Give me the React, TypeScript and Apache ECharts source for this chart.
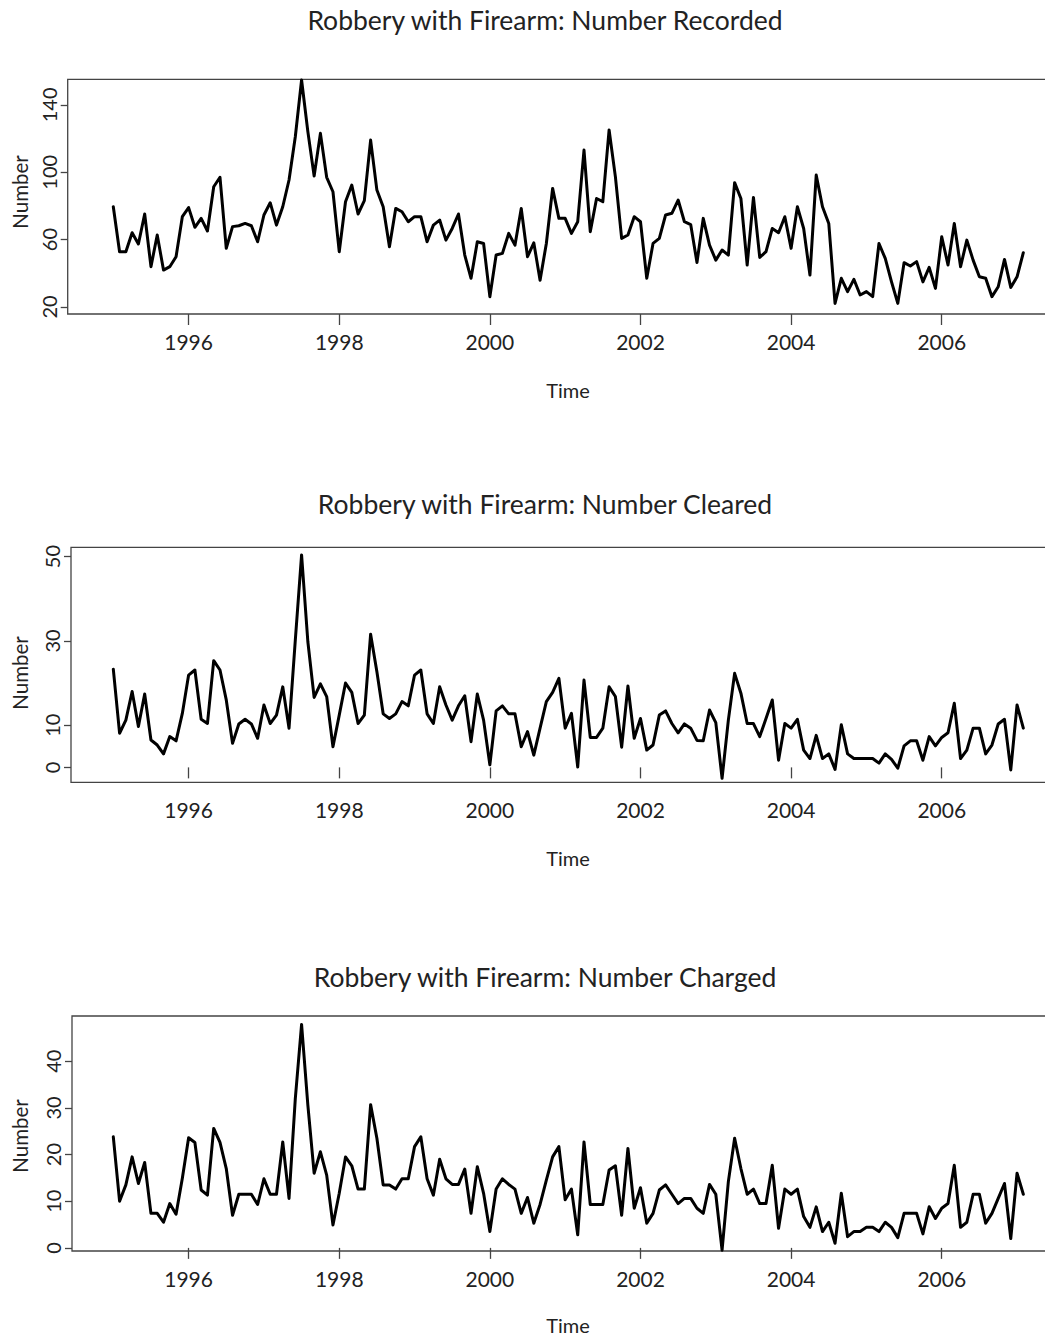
import React, { useEffect, useRef } from "react";
import * as echarts from "echarts";

// Monthly series, January 1995 onward
const START_YEAR = 1995;
const MONTHS_PER_YEAR = 12;

const recorded = [
  79.5, 52.8, 52.8, 64.1, 57.4, 75.2, 43.9, 62.7, 41.9, 43.9,
  49.8, 73.6, 79, 67.3, 72.6, 65.1, 91.4, 97, 54.8, 67.7,
  68.2, 69.6, 68.2, 58.7, 74.6, 81.9, 68.6, 79.5, 95.4, 121.1,
  154.8, 124.1, 97.8, 123.1, 97, 88.4, 52.8, 82.5, 92.4, 75.2,
  83.1, 119.1, 89.4, 79.5, 55.7, 78.5, 76.5, 70.6, 73.6, 73.6,
  58.7, 68.6, 71.6, 59.7, 66.6, 75.2, 50.8, 37, 58.7, 57.7,
  26.1, 50.8, 51.8, 63.7, 56.7, 78.5, 49.8, 58.1, 35.9, 57.7,
  90.4, 72.6, 72.6, 63.7, 70.6, 113.2, 64.7, 84.4, 82.5, 125.1,
  97.4, 60.7, 62.7, 73.6, 70.6, 37, 57.7, 60.7, 74.6, 75.6,
  83.5, 70.6, 68.9, 46.4, 72.6, 56.7, 47.8, 53.8, 50.8, 93.8,
  84.4, 44.9, 85, 49.4, 52.8, 66.6, 64.1, 73.6, 54.8, 79.5,
  66.6, 38.9, 98.3, 79.5, 69.6, 22.1, 37, 29.1, 36.4, 27.1,
  29.1, 26.1, 57.7, 48.8, 34.9, 22.1, 46.3, 44.3, 46.9, 34.9,
  43.5, 31, 61.7, 44.9, 69.6, 43.9, 59.7, 47.8, 37.9, 37,
  26.1, 32, 48.2, 31.6, 37.9, 52.2,
];

const cleared = [
  23.3, 8.1, 11.2, 18, 9.7, 17.4, 6.5, 5.3, 3.2, 7.3,
  6.3, 12.8, 21.9, 23.1, 11.4, 10.4, 25.3, 23.1, 16, 5.7,
  10.3, 11.4, 10.3, 6.9, 14.8, 10.4, 12.4, 19.1, 9.3, 30.2,
  50.4, 29.8, 16.6, 19.8, 16.8, 4.9, 12.4, 20, 17.8, 10.4,
  12.4, 31.6, 22.7, 12.7, 11.6, 12.7, 15.6, 14.6, 21.9, 23.1,
  12.7, 10.4, 19.1, 14.8, 11.2, 14.6, 17, 6.1, 17.4, 11.2,
  0.6, 13.4, 14.6, 12.7, 12.7, 4.9, 8.5, 2.9, 9.3, 15.6,
  17.8, 21.1, 9.3, 12.8, 0.1, 20.7, 7.1, 7.1, 9.3, 19.1,
  16.8, 4.8, 19.3, 6.9, 11.6, 4.1, 5.3, 12.4, 13.4, 10.4,
  8.2, 10.3, 9.3, 6.4, 6.3, 13.6, 10.6, -2.6, 11.2, 22.3,
  17.6, 10.4, 10.4, 7.3, 11.6, 16, 1.7, 10.4, 9.3, 11.4,
  4.1, 2.1, 7.6, 2.1, 3.2, -0.5, 10.1, 3.2, 2.1, 2.1,
  2.1, 2.1, 1, 3.2, 1.9, -0.2, 5.1, 6.3, 6.3, 1.7,
  7.3, 5.1, 7.1, 8.2, 15.2, 2.1, 4.1, 9.3, 9.3, 3.2,
  5.3, 10.3, 11.4, -0.6, 14.8, 9.3,
];

const charged = [
  23.8, 10, 13.5, 19.5, 13.8, 18.3, 7.4, 7.4, 5.5, 9.5,
  7.2, 14.9, 23.6, 22.6, 12.4, 11.3, 25.6, 22.6, 17, 7,
  11.5, 11.5, 11.5, 9.3, 14.8, 11.5, 11.5, 22.7, 10.6, 32,
  47.9, 30.6, 16, 20.6, 15.6, 4.9, 11.7, 19.5, 17.6, 12.6,
  12.6, 30.7, 23.5, 13.5, 13.5, 12.6, 14.8, 14.8, 21.7, 23.8,
  14.8, 11.3, 19, 14.8, 13.6, 13.6, 16.9, 7.4, 17.4, 11.7,
  3.5, 12.6, 14.8, 13.6, 12.6, 7.4, 10.8, 5.3, 9.3, 14.5,
  19.5, 21.7, 10.3, 12.6, 2.8, 22.7, 9.3, 9.3, 9.3, 16.7,
  17.6, 7, 21.3, 8.5, 12.9, 5.3, 7.4, 12.4, 13.5, 11.5,
  9.5, 10.6, 10.6, 8.5, 7.4, 13.6, 11.5, -0.5, 14.2, 23.5,
  17, 11.5, 12.6, 9.5, 9.5, 17.7, 4.2, 12.6, 11.5, 12.6,
  6.7, 4.4, 8.8, 3.5, 5.5, 1, 11.7, 2.4, 3.5, 3.5,
  4.4, 4.4, 3.5, 5.5, 4.4, 2.2, 7.4, 7.4, 7.4, 3,
  8.8, 6.3, 8.5, 9.5, 17.7, 4.4, 5.5, 11.5, 11.5, 5.3,
  7.4, 10.6, 13.8, 2, 16, 11.5,
];

const yearTicks = [1996, 1998, 2000, 2002, 2004, 2006];
const recordedTicks = [20, 60, 100, 140];
const clearedTicks = [0, 10, 30, 50];
const chargedTicks = [0, 10, 20, 30, 40];

const titles = [
  "Robbery with Firearm: Number Recorded",
  "Robbery with Firearm: Number Cleared",
  "Robbery with Firearm: Number Charged",
];
const xName = "Time";
const yName = "Number";

const toPoints = (vals: number[]) =>
  vals.map((v, i) => [START_YEAR + i / MONTHS_PER_YEAR, v]);

const FONT = "Lato, 'Open Sans', sans-serif";
const TEXT = "#222";
const AXIS = "#444";

const panels = [
  {
    grid: { left: 67.7, top: 79.3, width: 980.3, height: 234.7 },
    xMin: 1994.3945, xMax: 2007.411, yMin: 15.8, yMax: 155.2,
    ticks: recordedTicks, values: recorded, title: titles[0],
    titleY: 20, timeY: 390, numberY: 192,
  },
  {
    grid: { left: 71, top: 547.3, width: 977, height: 235 },
    xMin: 1994.4383, xMax: 2007.411, yMin: -3.54, yMax: 52.2,
    ticks: clearedTicks, values: cleared, title: titles[1],
    titleY: 504, timeY: 858, numberY: 673,
  },
  {
    grid: { left: 72, top: 1016, width: 976, height: 235 },
    xMin: 1994.4516, xMax: 2007.411, yMin: -0.67, yMax: 49.7,
    ticks: chargedTicks, values: charged, title: titles[2],
    titleY: 977, timeY: 1325, numberY: 1136,
  },
];

export default function App() {
  const ref = useRef<HTMLDivElement>(null);

  useEffect(() => {
    if (!ref.current) return;
    const chart = echarts.init(ref.current, undefined, { renderer: "svg" });

    const graphics: any[] = [];
    panels.forEach((p) => {
      graphics.push({
        type: "text",
        x: 545,
        y: p.titleY,
        style: {
          text: p.title,
          align: "center",
          verticalAlign: "middle",
          fontSize: 26.5,
          fontFamily: FONT,
          fill: TEXT,
        },
      });
      graphics.push({
        type: "text",
        x: 568,
        y: p.timeY,
        style: {
          text: xName,
          align: "center",
          verticalAlign: "middle",
          fontSize: 20,
          fontFamily: FONT,
          fill: TEXT,
        },
      });
      graphics.push({
        type: "text",
        x: 20,
        y: p.numberY,
        rotation: Math.PI / 2,
        style: {
          text: yName,
          align: "center",
          verticalAlign: "middle",
          fontSize: 20.5,
          fontFamily: FONT,
          fill: TEXT,
        },
      });
    });

    chart.setOption({
      animation: false,
      backgroundColor: "#fff",
      grid: panels.map((p) => ({
        ...p.grid,
        show: true,
        borderColor: AXIS,
        borderWidth: 1.3,
        backgroundColor: "transparent",
        containLabel: false,
      })),
      xAxis: panels.map((p, i) => ({
        type: "value",
        gridIndex: i,
        min: p.xMin,
        max: p.xMax,
        axisLine: { show: false },
        splitLine: { show: false },
        axisTick: {
          show: true,
          inside: false,
          length: 11,
          lineStyle: { color: AXIS, width: 1.3 },
          customValues: yearTicks,
        },
        axisLabel: {
          customValues: yearTicks,
          fontSize: 21,
          margin: 17,
          color: TEXT,
          fontFamily: FONT,
          formatter: (v: number) => String(Math.round(v)),
        },
      })),
      yAxis: panels.map((p, i) => ({
        type: "value",
        gridIndex: i,
        min: p.yMin,
        max: p.yMax,
        axisLine: { show: false },
        splitLine: { show: false },
        axisTick: {
          show: true,
          inside: false,
          length: 7,
          lineStyle: { color: AXIS, width: 1.3 },
          customValues: p.ticks,
        },
        axisLabel: {
          customValues: p.ticks,
          rotate: 90,
          fontSize: 20,
          margin: 9,
          color: TEXT,
          fontFamily: FONT,
          formatter: (v: number) => String(Math.round(v)),
        },
      })),
      series: panels.map((p, i) => ({
        type: "line",
        xAxisIndex: i,
        yAxisIndex: i,
        data: toPoints(p.values),
        showSymbol: false,
        symbol: "none",
        silent: true,
        clip: true,
        lineStyle: { color: "#000", width: 3, join: "round", cap: "round" },
      })),
      graphic: graphics,
    });

    return () => chart.dispose();
  }, []);

  return (
    <div
      style={{
        position: "absolute",
        left: 0,
        top: 0,
        width: 1045,
        height: 1339,
        overflow: "hidden",
        background: "#fff",
      }}
    >
      <div ref={ref} style={{ width: 1050, height: 1339 }} />
    </div>
  );
}
